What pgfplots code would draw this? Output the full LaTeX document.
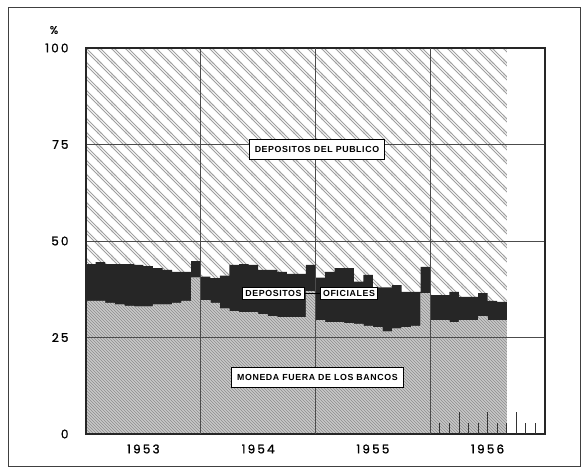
\documentclass[border=0pt]{standalone}
\usepackage{fontspec}
\setmainfont{Liberation Sans}
\newfontfamily\numfont[LetterSpace=18,FakeBold=1.2]{Poppins}
\newfontfamily\lblfont[LetterSpace=7]{Liberation Sans}
\usepackage{pgfplots}
\pgfplotsset{compat=1.18}
\usepackage{pgfplotstable}
\usetikzlibrary{patterns}

\pgfdeclarepatternformonly{dblnw}{\pgfqpoint{-1pt}{-1pt}}{\pgfqpoint{15pt}{15pt}}{\pgfqpoint{14pt}{14pt}}{%
  \pgfsetlinewidth{0.75pt}%
  \pgfpathmoveto{\pgfqpoint{-1pt}{15pt}}\pgfpathlineto{\pgfqpoint{15pt}{-1pt}}%
  \pgfpathmoveto{\pgfqpoint{2pt}{15pt}}\pgfpathlineto{\pgfqpoint{15pt}{2pt}}%
  \pgfpathmoveto{\pgfqpoint{-1pt}{4pt}}\pgfpathlineto{\pgfqpoint{4pt}{-1pt}}%
  \pgfusepath{stroke}}

% month index (0 = Jan 1953), shares in percent
\pgfplotstableread{
x mon ofi pub
0 34.5 9.5 56.0
1 34.5 10.0 55.5
2 34.0 10.0 56.0
3 33.5 10.5 56.0
4 33.2 10.8 56.0
5 33.0 10.8 56.2
6 33.0 10.5 56.5
7 33.5 9.5 57.0
8 33.5 9.0 57.5
9 34.0 8.0 58.0
10 34.5 7.5 58.0
11 40.5 4.3 55.2
12 34.7 6.1 59.2
13 34.0 6.4 59.6
14 32.5 8.5 59.0
15 31.8 12.0 56.2
16 31.6 12.4 56.0
17 31.6 12.2 56.2
18 31.0 11.5 57.5
19 30.5 12.0 57.5
20 30.3 11.7 58.0
21 30.3 11.2 58.5
22 30.3 11.2 58.5
23 37.0 6.8 56.2
24 29.5 11.0 59.5
25 29.0 13.0 58.0
26 29.0 14.0 57.0
27 28.7 14.3 57.0
28 28.5 11.0 60.5
29 28.0 13.2 58.8
30 27.7 10.3 62.0
31 26.5 11.5 62.0
32 27.3 11.3 61.4
33 27.7 9.1 63.2
34 28.0 8.8 63.2
35 36.5 6.8 56.7
36 29.5 6.5 64.0
37 29.5 6.5 64.0
38 29.0 7.8 63.2
39 29.5 6.0 64.5
40 29.5 6.0 64.5
41 30.5 6.0 63.5
42 29.5 5.0 65.5
43 29.5 4.7 65.8
44 29.5 4.7 65.8
}\datatable

\begin{document}
\begin{tikzpicture}[x=1pt,y=1pt]
\useasboundingbox (0,0) rectangle (585,469);
\draw[line width=1pt, black!75] (8,3) rectangle (580,461);
\begin{axis}[
  at={(86pt,35pt)}, anchor=south west,
  width=459pt, height=386pt, scale only axis,
  xmin=0, xmax=48, ymin=0, ymax=100,
  stack plots=y, axis on top,
  axis line style={line width=1.1pt, black!85},
  major tick length=0pt,
  ytick={0,25,50,75,100},
  ymajorgrids,
  xtick={6,18,30,42},
  xticklabels={1953,1954,1955,1956},
  extra x ticks={12,24,36},
  extra x tick labels={},
  extra x tick style={grid=major},
  grid style={line width=0.9pt, black!70},
  /pgf/number format/assume math mode=true,
  yticklabel style={font=\numfont\fontsize{12}{14}\selectfont, xshift=-14pt},
  xticklabel style={font=\numfont\fontsize{12}{14}\selectfont, yshift=-7pt},
]
\addplot[const plot, draw=none, fill=gray!42, postaction={pattern=north west lines, pattern color=gray!90}] table[x=x,y=mon]{\datatable} \closedcycle;
\addplot[const plot, draw=none, fill=black!85] table[x=x,y=ofi]{\datatable} \closedcycle;
\addplot[const plot, draw=none, pattern=dblnw, pattern color=gray!75] table[x=x,y=pub]{\datatable} \closedcycle;
\coordinate (cpub) at (axis cs:24.15,73.7);
\coordinate (cdep) at (axis cs:19.6,36.4);
\coordinate (cofi) at (axis cs:27.5,36.4);
\coordinate (cmon) at (axis cs:24.2,14.7);
\end{axis}
\begin{axis}[
  at={(86pt,35pt)}, anchor=south west,
  width=459pt, height=386pt, scale only axis,
  xmin=0, xmax=48, ymin=0, ymax=100, hide axis]
\addplot[ycomb, no marks, black!80, line width=0.8pt] coordinates {(37,2.8)(38,2.8)(39,5.7)(40,2.8)(41,2.8)(42,5.7)(43,2.8)(44,2.8)(45,5.7)(46,2.8)(47,2.8)};
\end{axis}
\tikzset{lbl/.style={draw=black, line width=0.9pt, fill=white, font=\lblfont\bfseries\fontsize{8.8}{10}\selectfont}}
\node[lbl, inner xsep=5pt, inner ysep=6.5pt] at (cpub) {DEPOSITOS DEL PUBLICO};
\node[lbl, inner xsep=3pt, inner ysep=3pt] (dep) at (cdep) {DEPOSITOS};
\node[lbl, inner xsep=3pt, inner ysep=3pt] (ofi) at (cofi) {OFICIALES};
\draw[line width=0.9pt] (dep.east) -- (ofi.west);
\node[lbl, inner xsep=6pt, inner ysep=7pt] at (cmon) {MONEDA FUERA DE LOS BANCOS};
\node[font=\numfont\fontsize{11}{12}\selectfont] at (54,439) {\%};
\end{tikzpicture}
\end{document}
